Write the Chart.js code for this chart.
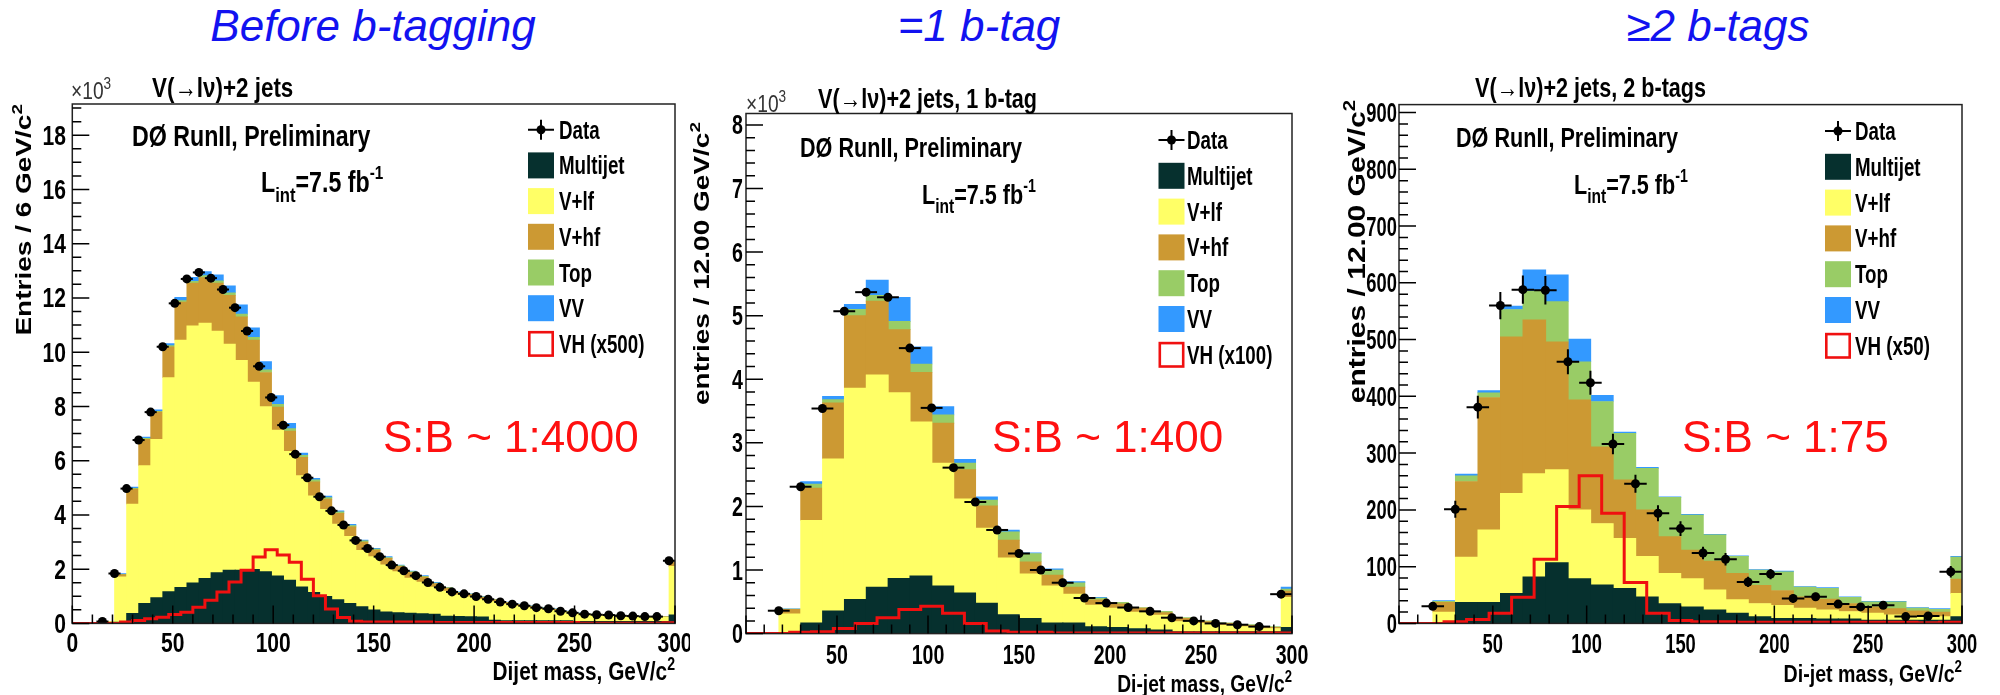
<!DOCTYPE html>
<html>
<head>
<meta charset="utf-8">
<script src="https://cdn.jsdelivr.net/npm/chart.js@4.4.1/dist/chart.umd.min.js"></script>
<style>
  body { margin: 0; width: 2000px; height: 695px; background: #fff; position: relative; overflow: hidden; font-family: "Liberation Sans", Arial, sans-serif; }
  canvas { position: absolute; top: 55px; }
  .title { position: absolute; top: 4px; font-size: 44px; line-height: 44px; font-style: italic; color: #1212f0; white-space: nowrap; transform: translateX(-50%); }
  .sb { position: absolute; top: 415px; font-size: 44px; line-height: 44px; color: #ff1010; white-space: nowrap; z-index: 2; }
</style>
</head>
<body>
<div class="title" style="left:373px">Before b-tagging</div>
<div class="title" style="left:979px">=1 b-tag</div>
<div class="title" style="left:1718px">≥2 b-tags</div>
<canvas id="c1" width="690" height="640" style="left:0"></canvas>
<canvas id="c2" width="640" height="640" style="left:690px"></canvas>
<canvas id="c3" width="670" height="640" style="left:1330px"></canvas>
<div class="sb" style="left:383px">S:B ~ 1:4000</div>
<div class="sb" style="left:992px">S:B ~ 1:400</div>
<div class="sb" style="left:1682px">S:B ~ 1:75</div>
<script>
// background samples, bottom of the stack first
const components = ['Multijet', 'V+lf', 'V+hf', 'Top', 'VV'];
const colors = ['#06302e', '#ffff66', '#cc9933', '#99cc66', '#3399ff'];

// tick labels
const xTicks1 = [0, 50, 100, 150, 200, 250, 300];
const xTicks23 = [50, 100, 150, 200, 250, 300];
const yTicks1 = [0, 2, 4, 6, 8, 10, 12, 14, 16, 18];
const yTicks2 = [0, 1, 2, 3, 4, 5, 6, 7, 8];
const yTicks3 = [0, 100, 200, 300, 400, 500, 600, 700, 800, 900];

// before b-tagging: x10^3 entries per 6 GeV bin, 0..300
const mj1 = [0,0,0,0.05,0.37,0.74,0.95,1.17,1.33,1.5, 1.66,1.87,1.97,1.97,1.99,1.91,1.75,1.6,1.35,1.15,
  1.0,0.88,0.74,0.62,0.5,0.43,0.4,0.38,0.36,0.34, 0.27,0.26,0.25,0.24,0.12,0.1,0.1,0.1,0.1,0.1,
  0.1,0.08,0.08,0.08,0.08,0.08,0.08,0.08,0.08,0.32];
const lf1 = [0,0,0.06,1.67,4.03,5.08,5.84,7.89,9.12,9.47, 9.41,8.91,8.33,7.73,6.91,6.08,5.38,4.74,4.1,3.55,
  3.21,2.78,2.47,2.07,1.96,1.73,1.51,1.29,1.16,1.0, 0.92,0.79,0.73,0.65,0.68,0.61,0.54,0.48,0.42,0.38,
  0.3,0.27,0.22,0.2,0.19,0.17,0.16,0.14,0.14,1.78];
const hf1 = [0,0,0.01,0.08,0.55,0.97,1.0,1.14,1.4,1.58, 1.68,1.77,1.8,1.6,1.55,1.26,0.85,0.75,0.67,0.52,
  0.37,0.4,0.35,0.31,0.24,0.24,0.19,0.21,0.19,0.13, 0.11,0.08,0.08,0.07,0.07,0.06,0.05,0.05,0.04,0.04,
  0.03,0.02,0.03,0.03,0.03,0.02,0.02,0.02,0.02,0.16];
const top1 = [0,0,0,0.01,0.03,0.03,0.03,0.04,0.05,0.06, 0.07,0.08,0.09,0.1,0.1,0.1,0.1,0.09,0.08,0.07,
  0.06,0.05,0.05,0.04,0.04,0.03,0.03,0.03,0.03,0.02, 0.02,0.02,0.02,0.02,0.01,0.01,0.01,0.01,0.01,0.01,
  0.01,0.01,0.01,0.01,0.01,0.01,0.01,0.01,0.01,0.03];
const vv1 = [0,0,0,0.03,0.05,0.05,0.05,0.08,0.12,0.15, 0.15,0.22,0.26,0.35,0.35,0.3,0.32,0.2,0.08,0.06,
  0.05,0.04,0.04,0.03,0.03,0.03,0.02,0.02,0.02,0.02, 0.01,0.01,0.01,0.01,0.01,0.01,0.01,0.01,0.01,0.01,
  0.01,0.01,0,0,0,0,0,0,0,0.02];
const data1 = [null,null,0.07,1.84,4.97,6.76,7.79,10.2,11.8,12.7, 12.94,12.73,12.31,11.64,10.78,9.48,8.33,7.31,6.24,5.37,
  4.67,4.15,3.63,3.06,2.76,2.46,2.15,1.94,1.76,1.51, 1.33,1.16,1.09,0.99,0.89,0.79,0.71,0.65,0.58,0.54,
  0.45,0.39,0.34,0.32,0.31,0.28,0.27,0.25,0.25,2.31];
const vh1 = [0,0,0,0,0.05,0.11,0.17,0.23,0.33,0.41, 0.6,0.85,1.16,1.53,1.96,2.45,2.72,2.52,2.25,1.63,
  1.02,0.53,0.22,0.08,0.05,0.05,0.05,0.05,0.05,0.05, 0.03,0.03,0.03,0.03,0.03,0.03,0.03,0.03,0.03,0.03,
  0.03,0.03,0.01,0.01,0.01,0.01,0.01,0.01,0.01,0.02];

// =1 b-tag: x10^3 entries per 12 GeV bin
const mj2 = [0,0.01,0.17,0.36,0.54,0.73,0.87,0.91,0.75,0.64, 0.48,0.3,0.24,0.17,0.17,0.11,0.1,0.08,0.06,0.03, 0.03,0.03,0.03,0.03,0.1];
const lf2 = [0,0.3,1.61,2.39,3.32,3.34,2.92,2.42,1.93,1.48, 1.18,0.89,0.7,0.58,0.45,0.34,0.3,0.26,0.23,0.16, 0.13,0.1,0.08,0.05,0.47];
const hf2 = [0,0.07,0.51,0.88,1.14,1.16,0.99,0.78,0.63,0.46, 0.35,0.28,0.19,0.17,0.11,0.08,0.07,0.06,0.04,0.05, 0.03,0.03,0.02,0.02,0.1];
const top2 = [0,0.005,0.06,0.05,0.1,0.09,0.13,0.13,0.13,0.1, 0.09,0.13,0.13,0.08,0.07,0.03,0.02,0.01,0.02,0.01, 0.01,0.01,0.01,0.01,0.03];
const vv2 = [0,0.005,0.04,0.05,0.08,0.24,0.38,0.27,0.13,0.06, 0.05,0.03,0.01,0.02,0.02,0.01,0,0,0,0, 0,0,0,0,0.03];
const data2 = [null,0.36,2.31,3.54,5.07,5.37,5.29,4.49,3.55,2.61, 2.07,1.63,1.26,1.0,0.8,0.56,0.48,0.41,0.35,0.25, 0.2,0.16,0.14,0.11,0.62];
const vh2 = [0,0,0.02,0.03,0.08,0.16,0.25,0.38,0.43,0.32, 0.16,0.04,0.02,0.02,0.01,0.01,0.01,0.01,0.01,0.01, 0.01,0.01,0.01,0.01,0.01];

// >=2 b-tags: entries per 12 GeV bin
const mj3 = [0,0,37,37,53,82,107,79,68,62, 47,35,29,24,18,12,9,9,8,8, 6,6,6,6,12];
const lf3 = [0,20,80,128,176,182,164,121,108,88, 71,53,50,35,24,23,23,18,16,13, 12,9,7,6,41];
const hf3 = [0,17,133,233,276,271,225,194,135,103, 82,65,50,51,46,32,26,20,19,14, 11,11,9,8,25];
const top3 = [0,2,10,8,48,50,71,67,80,82, 73,69,62,46,30,27,33,17,19,11, 9,12,5,5,39];
const vv3 = [0,1,3,4,6,38,47,40,11,2, 2,1,1,1,1,1,1,1,1,1, 1,1,1,1,1];
const data3 = [null,30,201,381,560,588,587,461,424,316, 246,194,167,124,113,73,87,44,47,34, 29,32,12,13,91];
const err3 = [0,6,15,20,24,25,25,22,21,18, 16,14,13,11,11,9,9,7,7,6, 5,6,3.5,3.5,10];
const vh3 = [0,0,3,7,18,46,113,206,260,194, 72,18,5,3,3,2,2,2,2,2, 2,2,2,1,2];

const FONT = '"Liberation Sans", Arial, sans-serif';

// text with sub/superscript parts, squeezed horizontally like the original ROOT canvas
function rich(ctx, parts, x, y, o = {}) {
  const weight = o.weight || 'bold', sx = o.sx || 0.8;
  ctx.save();
  ctx.translate(x, y);
  if (o.rot) { ctx.rotate(-Math.PI / 2); ctx.scale(1, sx); } else ctx.scale(sx, 1);
  let w = 0;
  for (const [t, s] of parts) { ctx.font = `${weight} ${s}px ${FONT}`; w += ctx.measureText(t).width; }
  let cx = o.align === 'right' ? -w : o.align === 'center' ? -w / 2 : 0;
  ctx.fillStyle = o.color || '#000';
  ctx.textBaseline = 'alphabetic';
  for (const [t, s, dy] of parts) {
    ctx.font = `${weight} ${s}px ${FONT}`;
    ctx.fillText(t, cx, dy || 0);
    cx += ctx.measureText(t).width;
  }
  ctx.restore();
}

function rootPlugin(P) {
  return {
    id: 'root_' + P.id,
    beforeDraw(chart) {
      const c = chart.ctx;
      c.save(); c.fillStyle = '#fff'; c.fillRect(0, 0, chart.width, chart.height); c.restore();
    },
    afterDatasetsDraw(chart) {
      const ctx = chart.ctx, a = chart.chartArea, xs = chart.scales.xv, ys = chart.scales.yv;
      ctx.save();
      // data error bars
      ctx.strokeStyle = '#000'; ctx.lineWidth = 2;
      P.data.forEach((v, i) => {
        if (v == null) return;
        const y = ys.getPixelForValue(v);
        ctx.beginPath();
        ctx.moveTo(xs.getPixelForValue(i * P.binW), y);
        ctx.lineTo(xs.getPixelForValue((i + 1) * P.binW), y);
        if (P.err) {
          const cx = xs.getPixelForValue((i + 0.5) * P.binW);
          ctx.moveTo(cx, ys.getPixelForValue(v - P.err[i]));
          ctx.lineTo(cx, ys.getPixelForValue(v + P.err[i]));
        }
        ctx.stroke();
      });
      // frame
      ctx.lineWidth = 1.5; ctx.strokeStyle = '#222';
      ctx.strokeRect(a.left, a.top, a.right - a.left, a.bottom - a.top);
      // inside ticks
      ctx.strokeStyle = '#000'; ctx.lineWidth = 1.5;
      ctx.beginPath();
      for (let k = 0; k * P.yMinor <= P.yMax; k++) {
        const v = k * P.yMinor, y = ys.getPixelForValue(v);
        const major = P.yTicks.some(t => Math.abs(t - v) < 1e-6);
        ctx.moveTo(a.left, y); ctx.lineTo(a.left + (major ? 17 : 9), y);
      }
      for (let v = 0; v <= 300; v += 10) {
        const x = xs.getPixelForValue(v);
        ctx.moveTo(x, a.bottom); ctx.lineTo(x, a.bottom - (v % 50 === 0 ? 18 : 9));
      }
      ctx.stroke();
      const T = P.text;
      // tick labels
      P.yTicks.forEach(t => rich(ctx, [[String(t), T.tick.s]], T.tick.yr, ys.getPixelForValue(t) + 9.5, { align: 'right', sx: T.tick.sx }));
      P.xTicks.forEach(t => rich(ctx, [[String(t), T.tick.s]], xs.getPixelForValue(t), T.tick.xb, { align: 'center', sx: T.tick.sx }));
      // axis titles
      rich(ctx, [[T.xt.t, T.xt.s], ['2', T.xt.s * 0.68, -T.xt.s * 0.4]], T.xt.x, T.xt.y, { align: 'right' });
      rich(ctx, [[T.yt.t, T.yt.s], ['2', T.yt.s * 0.68, -T.yt.s * 0.4]], T.yt.x, T.yt.y, { align: 'right', rot: true });
      // header and labels
      if (T.mult) rich(ctx, [['×10', 24], ['3', 17, -10]], T.mult.x, T.mult.y, { weight: 'normal', color: '#333' });
      rich(ctx, [[T.head.t, T.head.s]], T.head.x, T.head.y);
      rich(ctx, [['DØ RunII, Preliminary', T.d0.s]], T.d0.x, T.d0.y);
      const s = T.lumi.s;
      rich(ctx, [['L', s], ['int', s * 0.72, s * 0.33], ['=7.5 fb', s], ['-1', s * 0.66, -s * 0.45]], T.lumi.x, T.lumi.y);
      // legend
      const L = T.leg;
      const entries = [{ t: 'Data', kind: 'data' }].concat(
        components.map((c, i) => ({ t: c, color: colors[i] })), [{ t: P.vhLabel, kind: 'vh' }]);
      entries.forEach((e, i) => {
        const cy = L.y + i * L.dy;
        if (e.kind === 'data') {
          ctx.strokeStyle = '#000'; ctx.lineWidth = 2;
          ctx.beginPath();
          ctx.moveTo(L.x, cy); ctx.lineTo(L.x + 26, cy);
          ctx.moveTo(L.x + 13, cy - 10); ctx.lineTo(L.x + 13, cy + 10);
          ctx.stroke();
          ctx.fillStyle = '#000';
          ctx.beginPath(); ctx.arc(L.x + 13, cy, 4.5, 0, 2 * Math.PI); ctx.fill();
        } else if (e.kind === 'vh') {
          ctx.strokeStyle = '#f01010'; ctx.lineWidth = 2.6;
          ctx.strokeRect(L.x + 1.3, cy - 11.7, 23.4, 23.4);
        } else {
          ctx.fillStyle = e.color;
          ctx.fillRect(L.x, cy - 13, 26, 26);
        }
        rich(ctx, [[e.t, 25]], L.tx, cy + 9, { sx: 0.75 });
      });
      ctx.restore();
    }
  };
}

function makeChart(P) {
  const n = P.data.length;
  const canvas = document.getElementById(P.id);
  const binPx = (canvas.width - P.pad.left - P.pad.right) / n;
  const bins = P.data.map((_, i) => `${i * P.binW}-${(i + 1) * P.binW}`);
  const centers = P.data.map((_, i) => (i + 0.5) * P.binW);
  const edges = P.data.map((_, i) => i * P.binW).concat([n * P.binW]);
  const stackSets = P.stack.map((vals, j) => ({
    type: 'bar', label: components[j], data: vals.map(v => v || null),
    backgroundColor: colors[j], borderWidth: 0, barPercentage: 1, categoryPercentage: 1,
    barThickness: binPx + 0.4, xAxisID: 'x', yAxisID: 'y', stack: 'bg', order: 2
  }));
  new Chart(canvas, {
    type: 'bar',
    data: {
      labels: bins,
      datasets: [
        { type: 'line', label: 'Data', xAxisID: 'xv', yAxisID: 'yv', showLine: false, order: 0,
          data: P.data.map((v, i) => v == null ? null : { x: centers[i], y: v }).filter(p => p),
          pointRadius: 4.5, pointBackgroundColor: '#000', pointBorderWidth: 0 },
        { type: 'line', label: P.vhLabel, xAxisID: 'xv', yAxisID: 'yv', order: 1,
          data: edges.map((x, i) => ({ x, y: P.vh[Math.min(i, n - 1)] })),
          stepped: true, borderColor: '#f01010', borderWidth: 3, pointRadius: 0, fill: false }
      ].concat(stackSets)
    },
    options: {
      responsive: false, animation: false, devicePixelRatio: 1,
      layout: { padding: P.pad },
      datasets: { bar: { barPercentage: 1, categoryPercentage: 1 } },
      plugins: { legend: { display: false }, tooltip: { enabled: false } },
      scales: {
        x: { type: 'category', offset: true, stacked: true, display: false, grid: { display: false } },
        y: { type: 'linear', stacked: true, min: 0, max: P.yMax, display: false },
        xv: { type: 'linear', offset: false, min: 0, max: 300, display: false, grid: { offset: false } },
        yv: { type: 'linear', min: 0, max: P.yMax, display: false }
      }
    },
    plugins: [rootPlugin(P)]
  });
}

makeChart({
  id: 'c1', binW: 6, yMax: 19.15, yMinor: 0.5, yTicks: yTicks1, xTicks: xTicks1,
  stack: [mj1, lf1, hf1, top1, vv1], data: data1, err: null, vh: vh1, vhLabel: 'VH (x500)',
  pad: { left: 72.3, top: 49, right: 15, bottom: 71.6 },
  text: {
    tick: { s: 27, sx: 0.78, xb: 597, yr: 66 },
    xt: { t: 'Dijet mass, GeV/c', s: 26, x: 675, y: 625 },
    yt: { t: 'Entries / 6 GeV/c', s: 28, x: 31, y: 49 },
    mult: { x: 71, y: 44 },
    head: { t: 'V(→lν)+2 jets', s: 28, x: 152, y: 41.5 },
    d0: { s: 29, x: 132, y: 91 },
    lumi: { s: 29, x: 261, y: 137 },
    leg: { x: 528, tx: 559, y: 74.7, dy: 35.7 }
  }
});

makeChart({
  id: 'c2', binW: 12, yMax: 8.18, yMinor: 0.2, yTicks: yTicks2, xTicks: xTicks23,
  stack: [mj2, lf2, hf2, top2, vv2], data: data2, err: null, vh: vh2, vhLabel: 'VH (x100)',
  pad: { left: 56, top: 58.5, right: 38, bottom: 61.4 },
  text: {
    tick: { s: 28, sx: 0.7, xb: 609, yr: 53 },
    xt: { t: 'Di-jet mass, GeV/c', s: 24, x: 602, y: 637 },
    yt: { t: 'entries / 12.00 GeV/c', s: 28, x: 19, y: 67 },
    mult: { x: 56, y: 57 },
    head: { t: 'V(→lν)+2 jets, 1 b-tag', s: 27, x: 128, y: 53 },
    d0: { s: 27, x: 110, y: 101.5 },
    lumi: { s: 27, x: 232, y: 149 },
    leg: { x: 468.5, tx: 497, y: 85, dy: 35.8 }
  }
});

makeChart({
  id: 'c3', binW: 12, yMax: 914, yMinor: 20, yTicks: yTicks3, xTicks: xTicks23,
  stack: [mj3, lf3, hf3, top3, vv3], data: data3, err: err3, vh: vh3, vhLabel: 'VH (x50)',
  pad: { left: 69, top: 49.6, right: 38, bottom: 71.6 },
  text: {
    tick: { s: 27, sx: 0.68, xb: 598, yr: 67 },
    xt: { t: 'Di-jet mass, GeV/c', s: 24.5, x: 632, y: 627 },
    yt: { t: 'entries / 12.00 GeV/c', s: 30, x: 35, y: 45 },
    mult: null,
    head: { t: 'V(→lν)+2 jets, 2 b-tags', s: 27, x: 145, y: 41.5 },
    d0: { s: 27, x: 126, y: 92 },
    lumi: { s: 27, x: 244, y: 138.8 },
    leg: { x: 495, tx: 525, y: 76, dy: 35.8 }
  }
});
</script>
</body>
</html>
